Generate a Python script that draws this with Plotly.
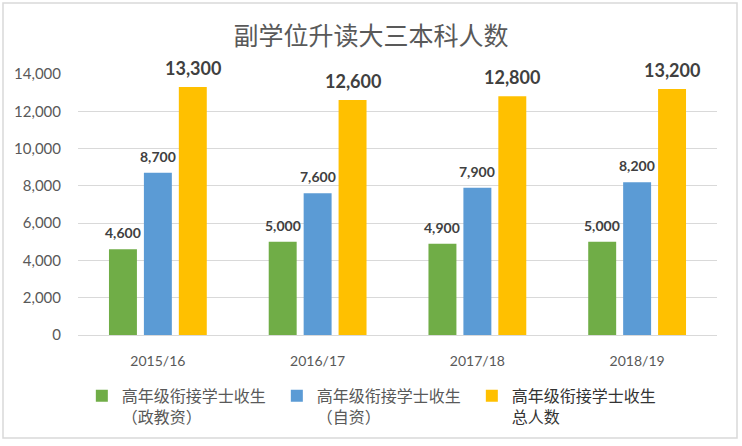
import plotly.graph_objects as go

categories = ["2015/16", "2016/17", "2017/18", "2018/19"]
gov_funded = [4600, 5000, 4900, 5000]
self_financed = [8700, 7600, 7900, 8200]
total = [13300, 12600, 12800, 13200]

series_names = [
    "高年级衔接学士收生<br>（政教资）",
    "高年级衔接学士收生<br>（自资）",
    "<span style=\"color:#333333\">高年级衔接学士收生<br>总人数</span>",
]
series_values = [gov_funded, self_financed, total]
colors = ["#70AD47", "#5B9BD5", "#FFC000"]
label_sizes = [14, 14, 18]

fig = go.Figure()
for name, vals, col in zip(series_names, series_values, colors):
    fig.add_trace(go.Bar(x=categories, y=vals, name=name, marker_color=col,
                         marker_line_width=0, hoverinfo="skip"))

# data labels
annotations = []
offsets = [-35, 0, 35]
for vals, off, fs in zip(series_values, offsets, label_sizes):
    for c, v in zip(categories, vals):
        annotations.append(dict(
            x=c, y=v, xref="x", yref="y", text=f"{v:,}", showarrow=False,
            xshift=off, yshift=6, yanchor="bottom",
            font=dict(family="Lato, Open Sans, sans-serif", size=fs, color="#404040", weight="bold"),
        ))

fig.update_layout(
    width=742, height=446,
    margin=dict(l=78, r=25, t=74, b=111),
    paper_bgcolor="white", plot_bgcolor="white",
    barmode="group", bargap=0.344, bargroupgap=0.2,
    title=dict(text="副学位升读大三本科人数", x=0.5, xanchor="center", xref="container",
               y=1 - 36 / 446, yanchor="middle", yref="container",
               font=dict(family="Noto Sans CJK SC", size=25, color="#595959")),
    font=dict(family="Lato, Open Sans, sans-serif", color="#595959"),
    showlegend=True,
    legend=dict(orientation="h", x=0.006, xanchor="left", y=-0.168, yanchor="top",
                valign="top", entrywidth=150, entrywidthmode="pixels",
                font=dict(family="Noto Sans CJK SC", size=16, color="#595959"),
                itemclick=False, itemdoubleclick=False),
    annotations=annotations,
    shapes=[dict(type="rect", xref="paper", yref="paper",
                 x0=(3 - 78) / 639, x1=(737 - 78) / 639,
                 y0=(335 - 438) / 261, y1=(335 - 3) / 261,
                 line=dict(color="#D9D9D9", width=1.5), layer="below")],
)
fig.update_xaxes(showgrid=False, showline=True, linecolor="#D9D9D9", linewidth=1,
                 tickfont=dict(family="Lato, Open Sans, sans-serif", size=14, color="#595959"),
                 ticks="", ticklabelstandoff=13, fixedrange=True, automargin=False)
fig.update_yaxes(range=[0, 14000], dtick=2000, tickformat=",", showgrid=True,
                 gridcolor="#D9D9D9", gridwidth=1, zeroline=False, showline=False,
                 tickfont=dict(family="Lato, Open Sans, sans-serif", size=15, color="#595959"),
                 ticklabelstandoff=16, fixedrange=True, automargin=False)

fig.write_html("out.html", config={"displayModeBar": False},
               post_script="document.body.style.margin='0px';")
